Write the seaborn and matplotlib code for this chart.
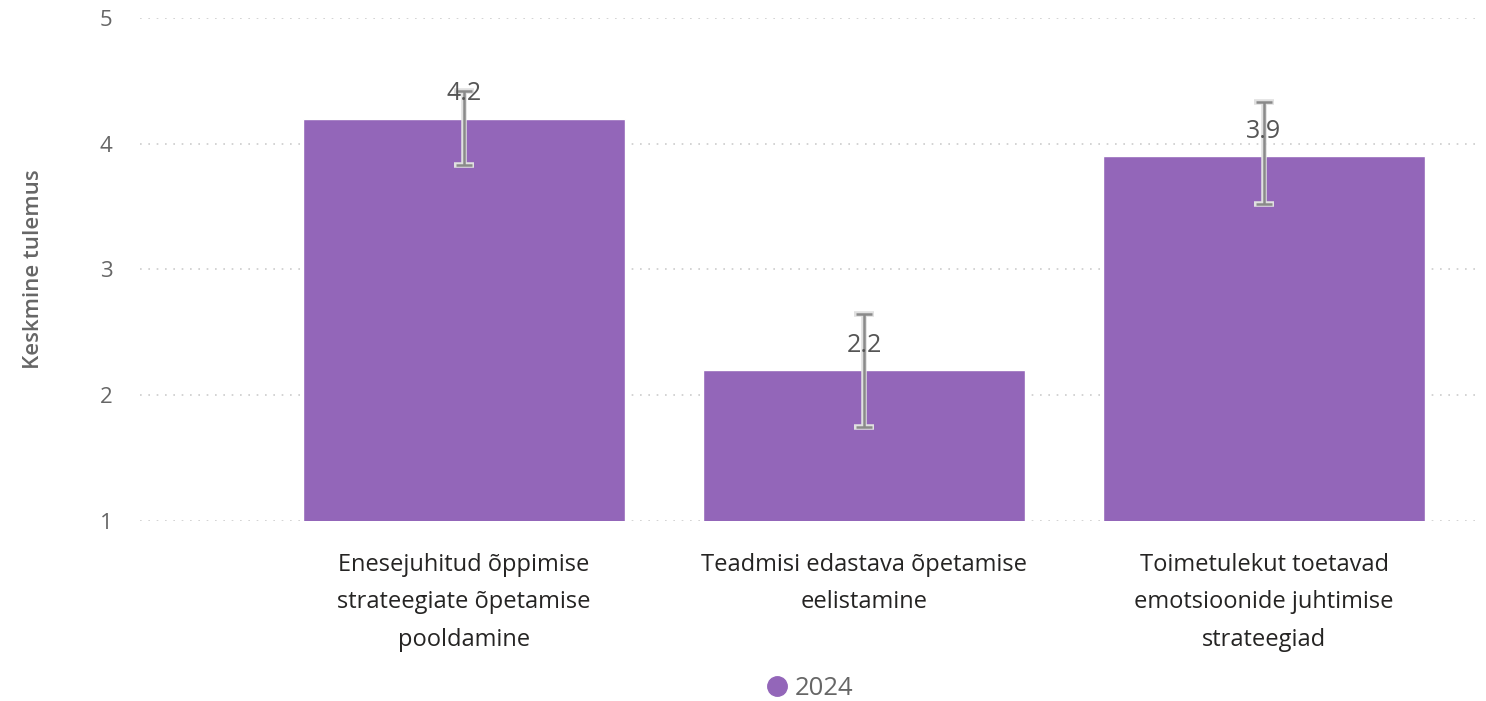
import numpy as np
import pandas as pd
import seaborn as sns
import matplotlib.pyplot as plt
from matplotlib.lines import Line2D

categories = ["Enesejuhitud õppimise\nstrateegiate õpetamise\npooldamine",
              "Teadmisi edastava õpetamise\neelistamine",
              "Toimetulekut toetavad\nemotsioonide juhtimise\nstrateegiad"]
values = [4.2, 2.2, 3.9]
err_low = [3.83, 1.75, 3.52]
err_high = [4.42, 2.65, 4.33]
year = "2024"

sns.set_style("white")
plt.rcParams['font.family'] = ['Open Sans', 'DejaVu Sans']

purple = "#9366b9"
grey = "#666666"

df = pd.DataFrame({'kategooria': categories, 'tulemus': values})

fig = plt.figure(figsize=(14.86, 7.01), dpi=100)
ax = fig.add_axes([0.0942, 0.2568, 0.9018, 0.7175])

sns.barplot(data=df, x='kategooria', y='tulemus', color=purple, width=0.805,
            saturation=1, errorbar=None, ax=ax, zorder=2)

x = np.arange(len(values))
v = np.array(values)
yerr = [v - np.array(err_low), np.array(err_high) - v]

ax.errorbar(x, v, yerr=yerr, fmt='none', ecolor='#e0e0e0', elinewidth=4,
            capsize=7, capthick=4, zorder=3)
ax.errorbar(x, v, yerr=yerr, fmt='none', ecolor='#8a8a8a', elinewidth=1.8,
            capsize=6, capthick=1.8, zorder=4)

# väärtuste sildid
for i, val in enumerate(values):
    ax.text(i, val + 0.1, f"{val:.1f}", ha='center', va='bottom',
            fontsize=18, color='#555555', zorder=5)

ax.set_ylim(1, 5)
ax.set_xlim(-0.81, 2.54)
ax.set_yticks([1, 2, 3, 4, 5])
ax.yaxis.grid(True, linestyle=(0, (1, 4)), color='#cccccc', linewidth=1.2)
ax.set_axisbelow(True)
sns.despine(ax=ax, left=True, bottom=True)
ax.tick_params(axis='y', length=0, labelsize=16, labelcolor=grey, pad=20)
ax.tick_params(axis='x', length=0, labelsize=17, labelcolor='#252423', pad=23)
for t in ax.get_xticklabels():
    t.set_linespacing(1.75)
ax.set_xlabel("")
ax.set_ylabel("Keskmine tulemus", fontsize=16, color=grey, labelpad=40,
              fontweight='semibold')

handle = Line2D([], [], marker='o', color=purple, linestyle='none', markersize=14)
fig.legend([handle], [year], loc='center', bbox_to_anchor=(0.54, 0.018),
           frameon=False, fontsize=18.5, labelcolor=grey, handletextpad=-0.3,
           borderaxespad=0)

plt.savefig("out.png", dpi=100)
